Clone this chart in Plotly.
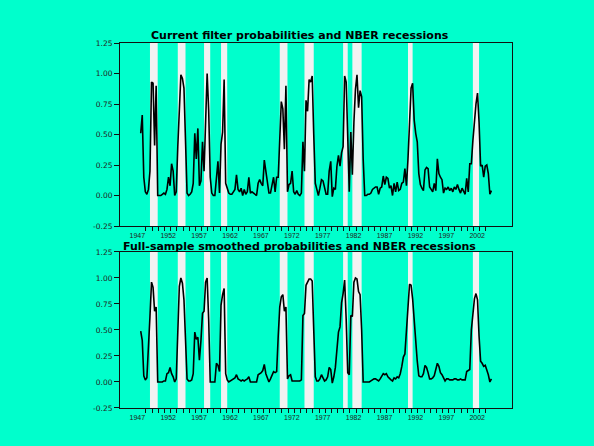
import plotly.graph_objects as go

# ---------------- data ----------------
start_year = 1947
start_quarter = 2  # first observation 1947Q2

filter_prob = [
    0.51, 0.66, 0.15,                 # 1947 Q2-Q4
    0.03, 0.01, 0.05, 0.20,           # 1948
    0.93, 0.92, 0.41, 0.90,           # 1949
    0.00, 0.00, 0.00, 0.01,           # 1950
    0.02, 0.01, 0.05, 0.15,           # 1951
    0.08, 0.26, 0.20, 0.00,           # 1952
    0.03, 0.40, 0.75, 0.99,           # 1953
    0.96, 0.88, 0.45, 0.02,           # 1954
    0.00, 0.01, 0.03, 0.10,           # 1955
    0.51, 0.30, 0.55, 0.08,           # 1956
    0.12, 0.44, 0.20, 0.70,           # 1957
    1.00, 0.70, 0.15, 0.02,           # 1958
    0.00, 0.00, 0.18, 0.28,           # 1959
    0.02, 0.42, 0.52, 0.95,           # 1960
    0.10, 0.05, 0.02, 0.01,           # 1961
    0.01, 0.03, 0.05, 0.17,           # 1962
    0.05, 0.03, 0.06, 0.00,           # 1963
    0.05, 0.01, 0.03, 0.15,           # 1964
    0.02, 0.03, 0.02, 0.01,           # 1965
    0.00, 0.10, 0.13, 0.10,           # 1966
    0.08, 0.29, 0.20, 0.15,           # 1967
    0.02, 0.02, 0.08, 0.15,           # 1968
    0.03, 0.15, 0.15, 0.45,           # 1969
    0.77, 0.71, 0.38, 0.90,           # 1970
    0.03, 0.09, 0.10, 0.20,           # 1971
    0.03, 0.01, 0.04, 0.01,           # 1972
    0.00, 0.02, 0.44, 0.20,           # 1973
    0.78, 0.69, 0.95, 0.93,           # 1974
    0.98, 0.50, 0.10, 0.05,           # 1975
    0.00, 0.06, 0.13, 0.12,           # 1976
    0.06, 0.01, 0.01, 0.20,           # 1977
    0.28, -0.01, 0.06, 0.05,          # 1978
    0.24, 0.33, 0.24, 0.35,           # 1979
    0.40, 0.98, 0.93, 0.37,           # 1980
    0.03, 0.52, 0.17, 0.60,           # 1981
    0.87, 0.99, 0.72, 0.86,           # 1982
    0.81, 0.30, 0.00, 0.00,           # 1983
    0.01, 0.01, 0.02, 0.05,           # 1984
    0.06, 0.07, 0.07, 0.01,           # 1985
    0.06, 0.07, 0.16, 0.09,           # 1986
    0.15, 0.14, 0.06, 0.08,           # 1987
    0.00, 0.10, 0.03, 0.11,           # 1988
    0.04, 0.05, 0.10, 0.11,           # 1989
    0.22, 0.08, 0.30, 0.60,           # 1990
    0.88, 0.92, 0.62, 0.51,           # 1991
    0.44, 0.18, 0.09, 0.06,           # 1992
    0.04, 0.21, 0.23, 0.22,           # 1993
    0.07, 0.05, 0.03, 0.10,           # 1994
    0.04, 0.30, 0.18, 0.15,           # 1995
    0.13, 0.02, 0.06, 0.05,           # 1996
    0.07, 0.04, 0.06, 0.03,           # 1997
    0.07, 0.05, 0.09, 0.05,           # 1998
    0.02, 0.06, 0.04, 0.01,           # 1999
    0.14, 0.03, 0.26, 0.26,           # 2000
    0.45, 0.62, 0.75, 0.84,           # 2001
    0.60, 0.24, 0.25, 0.15,           # 2002
    0.24, 0.25, 0.18, 0.01,           # 2003
    0.04,                             # 2004 Q1
]

smoothed_prob = [
    0.49, 0.40, 0.06,                 # 1947 Q2-Q4
    0.02, 0.04, 0.30, 0.63,           # 1948
    0.96, 0.91, 0.68, 0.72,           # 1949
    0.00, 0.00, 0.00, 0.00,           # 1950
    0.01, 0.01, 0.08, 0.09,           # 1951
    0.14, 0.08, 0.05, 0.00,           # 1952
    0.03, 0.40, 0.92, 1.00,           # 1953
    0.95, 0.79, 0.30, 0.03,           # 1954
    0.01, 0.01, 0.02, 0.08,           # 1955
    0.48, 0.41, 0.43, 0.21,           # 1956
    0.40, 0.66, 0.68, 0.96,           # 1957
    1.00, 0.60, 0.00, 0.00,           # 1958
    0.00, 0.00, 0.18, 0.16,           # 1959
    0.10, 0.74, 0.84, 0.90,           # 1960
    0.08, 0.02, 0.00, 0.01,           # 1961
    0.02, 0.03, 0.04, 0.07,           # 1962
    0.03, 0.02, 0.01, 0.02,           # 1963
    0.01, 0.02, 0.03, 0.05,           # 1964
    0.00, 0.00, 0.00, 0.00,           # 1965
    0.00, 0.07, 0.08, 0.09,           # 1966
    0.11, 0.17, 0.08, 0.04,           # 1967
    0.00, 0.03, 0.07, 0.10,           # 1968
    0.09, 0.10, 0.44, 0.72,           # 1969
    0.82, 0.84, 0.68, 0.72,           # 1970
    0.03, 0.06, 0.07, 0.01,           # 1971
    0.01, 0.01, 0.01, 0.01,           # 1972
    0.01, 0.02, 0.64, 0.66,           # 1973
    0.93, 0.96, 0.99, 0.99,           # 1974
    0.97, 0.50, 0.05, 0.01,           # 1975
    0.01, 0.03, 0.07, 0.04,           # 1976
    0.01, 0.02, 0.05, 0.14,           # 1977
    0.12, -0.01, 0.05, 0.14,          # 1978
    0.33, 0.48, 0.53, 0.76,           # 1979
    0.85, 0.98, 0.60, 0.09,           # 1980
    0.07, 0.64, 0.63, 0.96,           # 1981
    1.00, 0.99, 0.87, 0.84,           # 1982
    0.50, 0.00, 0.00, 0.00,           # 1983
    0.00, 0.00, 0.01, 0.02,           # 1984
    0.03, 0.03, 0.02, 0.01,           # 1985
    0.03, 0.06, 0.08, 0.07,           # 1986
    0.08, 0.05, 0.03, 0.02,           # 1987
    0.01, 0.04, 0.03, 0.05,           # 1988
    0.04, 0.08, 0.15, 0.24,           # 1989
    0.27, 0.50, 0.76, 0.94,           # 1990
    0.93, 0.80, 0.60, 0.36,           # 1991
    0.20, 0.06, 0.05, 0.05,           # 1992
    0.08, 0.16, 0.14, 0.09,           # 1993
    0.03, 0.03, 0.04, 0.06,           # 1994
    0.12, 0.18, 0.15, 0.09,           # 1995
    0.07, 0.04, 0.01, 0.03,           # 1996
    0.03, 0.02, 0.02, 0.02,           # 1997
    0.03, 0.03, 0.02, 0.02,           # 1998
    0.03, 0.02, 0.02, 0.02,           # 1999
    0.10, 0.11, 0.12, 0.50,           # 2000
    0.64, 0.80, 0.85, 0.79,           # 2001
    0.44, 0.20, 0.18, 0.15,           # 2002
    0.16, 0.12, 0.07, 0.00,           # 2003
    0.03,                             # 2004 Q1
]

# NBER recessions (peak quarter start, trough quarter end), in years
rec_start = [1948.75, 1953.25, 1957.50, 1960.25, 1969.75, 1973.75, 1980.00, 1981.50, 1990.50, 2001.00]
rec_end   = [1950.00, 1954.50, 1958.50, 1961.25, 1971.00, 1975.25, 1980.75, 1983.00, 1991.25, 2002.00]

year_labels = [1947, 1952, 1957, 1962, 1967, 1972, 1977, 1982, 1987, 1992, 1997, 2002]
y_ticks = [-0.25, 0.00, 0.25, 0.50, 0.75, 1.00, 1.25]

titles = ["Current filter probabilities and NBER recessions",
          "Full-sample smoothed probabilities and NBER recessions"]

# ---------------- figure ----------------
t = [start_year + (start_quarter - 1 + i) / 4.0 for i in range(len(filter_prob))]

BG = "#00FFCC"
BAND = "#F2F2F2"
FONT = "Liberation Sans, Arial, sans-serif"
TFONT = "DejaVu Sans, Verdana, sans-serif"

fig = go.Figure()
fig.add_trace(go.Scatter(x=t, y=filter_prob, mode="lines",
                         line=dict(color="black", width=1.6),
                         xaxis="x", yaxis="y", showlegend=False))
fig.add_trace(go.Scatter(x=t, y=smoothed_prob, mode="lines",
                         line=dict(color="black", width=1.6),
                         xaxis="x2", yaxis="y2", showlegend=False))

shapes = []
for xr, yr in (("x", "y"), ("x2", "y2")):
    for s, e in zip(rec_start, rec_end):
        shapes.append(dict(type="rect", xref=xr, yref=yr + " domain",
                           x0=s, x1=e, y0=0, y1=1, fillcolor=BAND,
                           line=dict(width=0), layer="below"))

xr_range = [1943.9, 2007.33]
minor_vals = [y + 0.1 for y in range(1948, 2004)]

def xaxis_cfg(anchor):
    return dict(
        range=xr_range, anchor=anchor, domain=[0, 1],
        showgrid=False, zeroline=False,
        showline=True, linecolor="#111", linewidth=1, mirror=True,
        tickmode="array", tickvals=[y - 0.3 for y in year_labels],
        ticktext=[str(y) for y in year_labels],
        ticks="outside", ticklen=3, tickcolor="rgba(0,0,0,0)",
        tickfont=dict(family=FONT, size=7, color="#222"),
        minor=dict(tickmode="array", tickvals=minor_vals, ticks="outside",
                   ticklen=4, tickcolor="#111", tickwidth=1, showgrid=False),
    )

def yaxis_cfg(anchor, dom):
    return dict(
        range=[-0.25, 1.25], anchor=anchor, domain=dom,
        showgrid=False, zeroline=False,
        showline=True, linecolor="#111", linewidth=1, mirror=True,
        tickmode="array", tickvals=y_ticks,
        ticktext=["%.2f" % v for v in y_ticks],
        ticks="outside", ticklen=5, tickcolor="#111",
        tickfont=dict(family=TFONT, size=7.5, color="#222"),
    )

fig.update_layout(
    width=594, height=446,
    margin=dict(l=120, r=82, t=43, b=38),
    paper_bgcolor=BG, plot_bgcolor=BG,
    xaxis=xaxis_cfg("y"),
    yaxis=yaxis_cfg("x", [0.4986, 1.0]),
    xaxis2=xaxis_cfg("y2"),
    yaxis2=yaxis_cfg("x2", [0.0, 0.4274]),
    shapes=shapes,
    annotations=[
        dict(text="<b>%s</b>" % titles[0], xref="paper", yref="paper",
             x=0.458, y=1.0219, xanchor="center", yanchor="middle",
             showarrow=False, font=dict(family=TFONT, size=11, color="black")),
        dict(text="<b>%s</b>" % titles[1], xref="paper", yref="paper",
             x=0.458, y=0.4416, xanchor="center", yanchor="middle",
             showarrow=False, font=dict(family=TFONT, size=11, color="black")),
    ],
)

fig.write_html("out.html")
